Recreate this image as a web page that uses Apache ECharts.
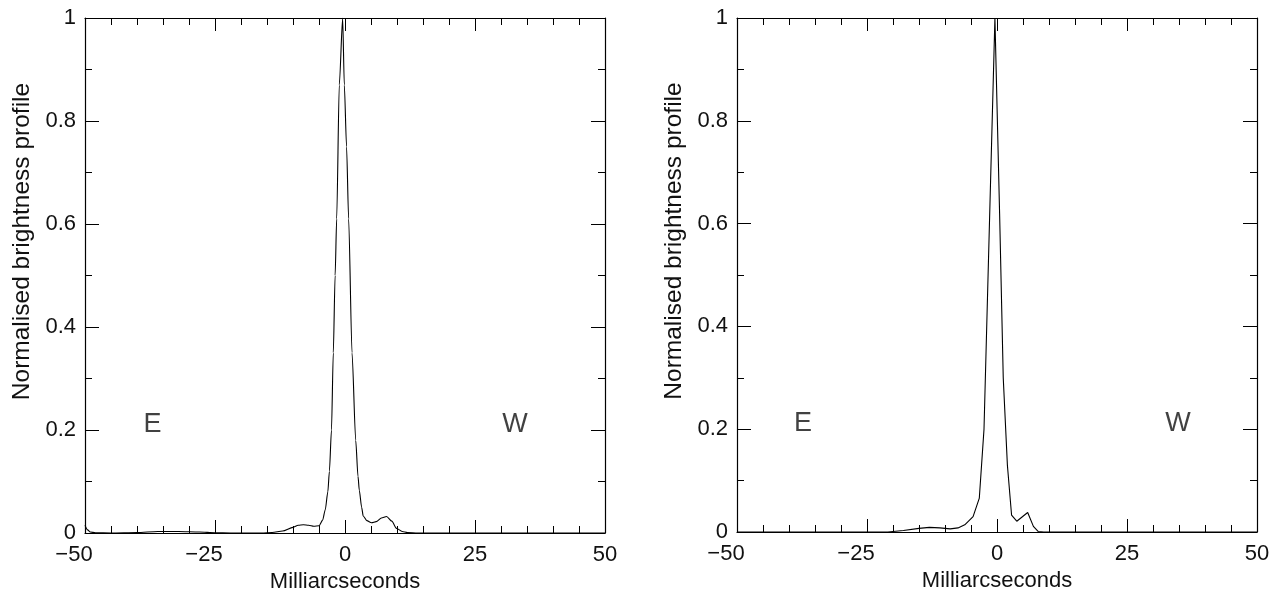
<!DOCTYPE html>
<html>
<head>
<meta charset="utf-8">
<script src="https://cdn.jsdelivr.net/npm/echarts@6/dist/echarts.min.js"></script>
<style>
html,body{margin:0;padding:0;background:#fff;}
#chart{width:1281px;height:592px;}
</style>
</head>
<body>
<div id="chart"></div>
<script>
// ---- data ----
var xTicks = [-50, -25, 0, 25, 50];
var yTicks = [0, 0.2, 0.4, 0.6, 0.8, 1];
var xLabel = 'Milliarcseconds';
var yLabel = 'Normalised brightness profile';

// left panel profile [mas, normalised brightness]
var leftProfile = [
  [-50, 0.015], [-49.5, 0.006], [-49, 0.002], [-48, 0.0005], [-45, 0], [-40, 0.001],
  [-36, 0.003], [-32, 0.003], [-28, 0.002], [-25, 0.0005], [-22, 0], [-16, 0],
  [-14, 0.001], [-12, 0.004], [-10, 0.011], [-9, 0.015], [-8, 0.016], [-7, 0.015],
  [-6, 0.013], [-5, 0.014], [-4.3, 0.025], [-3.8, 0.045], [-3.3, 0.08], [-3.0, 0.12],
  [-2.6, 0.2], [-2.25, 0.35], [-1.9, 0.5], [-1.6, 0.61], [-1.1, 0.87], [-0.45, 1.0],
  [-0.13, 0.87], [0.3, 0.75], [0.7, 0.61], [1.35, 0.35], [2.06, 0.18], [2.5, 0.11],
  [2.75, 0.083], [3.2, 0.05], [3.5, 0.033], [4.2, 0.024], [5.1, 0.020], [6, 0.022],
  [7, 0.029], [8, 0.032], [9, 0.023], [9.9, 0.009], [11, 0.003], [12, 0.001],
  [14, 0], [50, 0]
];

// right panel profile [mas, normalised brightness]
var rightProfile = [
  [-50, 0], [-25, 0], [-21, 0], [-18, 0.003], [-15, 0.007], [-13, 0.009], [-11, 0.008],
  [-9, 0.006], [-7.5, 0.008], [-6.2, 0.014], [-4.6, 0.03], [-3.4, 0.066], [-2.5, 0.2],
  [-1.4, 0.62], [-0.4, 1.0], [0.5, 0.62], [1.2, 0.3], [2.0, 0.13], [2.8, 0.033],
  [3.8, 0.021], [5.9, 0.038], [7.0, 0.011], [7.9, 0.001], [9, 0], [50, 0]
];

// direction annotations [mas, brightness, text]
var leftNotes = [[-37, 0.211, 'E'], [32.7, 0.211, 'W']];
var rightNotes = [[-37.3, 0.211, 'E'], [34.8, 0.211, 'W']];

// ---- chart ----
var FONT = '"Liberation Sans", Arial, Helvetica, sans-serif';
var TXT = '#111';
var chart = echarts.init(document.getElementById('chart'), null, {renderer: 'canvas'});

var grids = [
  {left: 85, width: 520, top: 18, height: 515, containLabel: false, outerBoundsMode: 'none'},
  {left: 737, width: 520, top: 18, height: 514, containLabel: false, outerBoundsMode: 'none'}
];

function xAxes(gi) {
  var base = {
    gridIndex: gi, type: 'value', min: xTicks[0], max: xTicks[xTicks.length - 1],
    interval: 25,
    axisLine: {show: true, onZero: false, lineStyle: {color: '#000', width: 1.2}},
    axisTick: {show: true, inside: true, length: 13, lineStyle: {color: '#000', width: 1}},
    minorTick: {show: true, splitNumber: 5, length: 7, lineStyle: {color: '#000', width: 1}},
    splitLine: {show: false}
  };
  var bottom = Object.assign({}, base, {
    position: 'bottom',
    name: xLabel, nameLocation: 'middle', nameGap: 37,
    nameTextStyle: {fontFamily: FONT, fontSize: 22, color: TXT},
    axisLabel: {show: true, margin: 11, fontFamily: FONT, fontSize: 22, color: TXT,
      formatter: function (v) {
        return v < 0 ? '{neg|\u2212' + Math.abs(v) + '}' : String(v);
      },
      rich: {neg: {fontFamily: FONT, fontSize: 22, color: TXT, padding: [0, 22, 0, 0]}}
    }
  });
  var top = Object.assign({}, base, {position: 'top', axisLabel: {show: false}});
  return [bottom, top];
}

function yAxes(gi) {
  var base = {
    gridIndex: gi, type: 'value', min: yTicks[0], max: yTicks[yTicks.length - 1],
    interval: 0.2,
    axisLine: {show: true, onZero: false, lineStyle: {color: '#000', width: 1.2}},
    axisTick: {show: true, inside: true, length: 14, lineStyle: {color: '#000', width: 1}},
    minorTick: {show: true, splitNumber: 2, length: 7, lineStyle: {color: '#000', width: 1}},
    splitLine: {show: false}
  };
  var left = Object.assign({}, base, {
    position: 'left',
    name: yLabel, nameLocation: 'middle', nameGap: 50,
    nameTextStyle: {fontFamily: FONT, fontSize: 24.5, color: TXT, padding: [0, 0, 0, 68]},
    axisLabel: {show: true, margin: 9, fontFamily: FONT, fontSize: 22, color: TXT,
      formatter: function (v) { return String(Math.round(v * 10) / 10); }}
  });
  var right = Object.assign({}, base, {position: 'right', axisLabel: {show: false}});
  return [left, right];
}

var xa = xAxes(0).concat(xAxes(1));
var ya = yAxes(0).concat(yAxes(1));

function noteSeries(xi, yi, data) {
  return {
    type: 'scatter', xAxisIndex: xi, yAxisIndex: yi, data: data,
    symbolSize: 0, silent: true,
    label: {show: true, position: 'inside', fontFamily: FONT, fontSize: 27, color: TXT,
      formatter: function (p) { return p.data[2]; }}
  };
}

chart.setOption({
  animation: false,
  backgroundColor: '#fff',
  grid: grids,
  xAxis: xa,
  yAxis: ya,
  series: [
    {
      type: 'line', xAxisIndex: 0, yAxisIndex: 0, data: leftProfile,
      showSymbol: false, symbol: 'none', smooth: 0.25, smoothMonotone: 'x',
      lineStyle: {color: '#000', width: 1.1}, silent: true, z: 3
    },
    {
      type: 'line', xAxisIndex: 2, yAxisIndex: 2, data: rightProfile,
      showSymbol: false, symbol: 'none', smooth: false,
      lineStyle: {color: '#000', width: 1.1}, silent: true, z: 3
    },
    noteSeries(0, 0, leftNotes),
    noteSeries(2, 2, rightNotes)
  ]
});
</script>
</body>
</html>
